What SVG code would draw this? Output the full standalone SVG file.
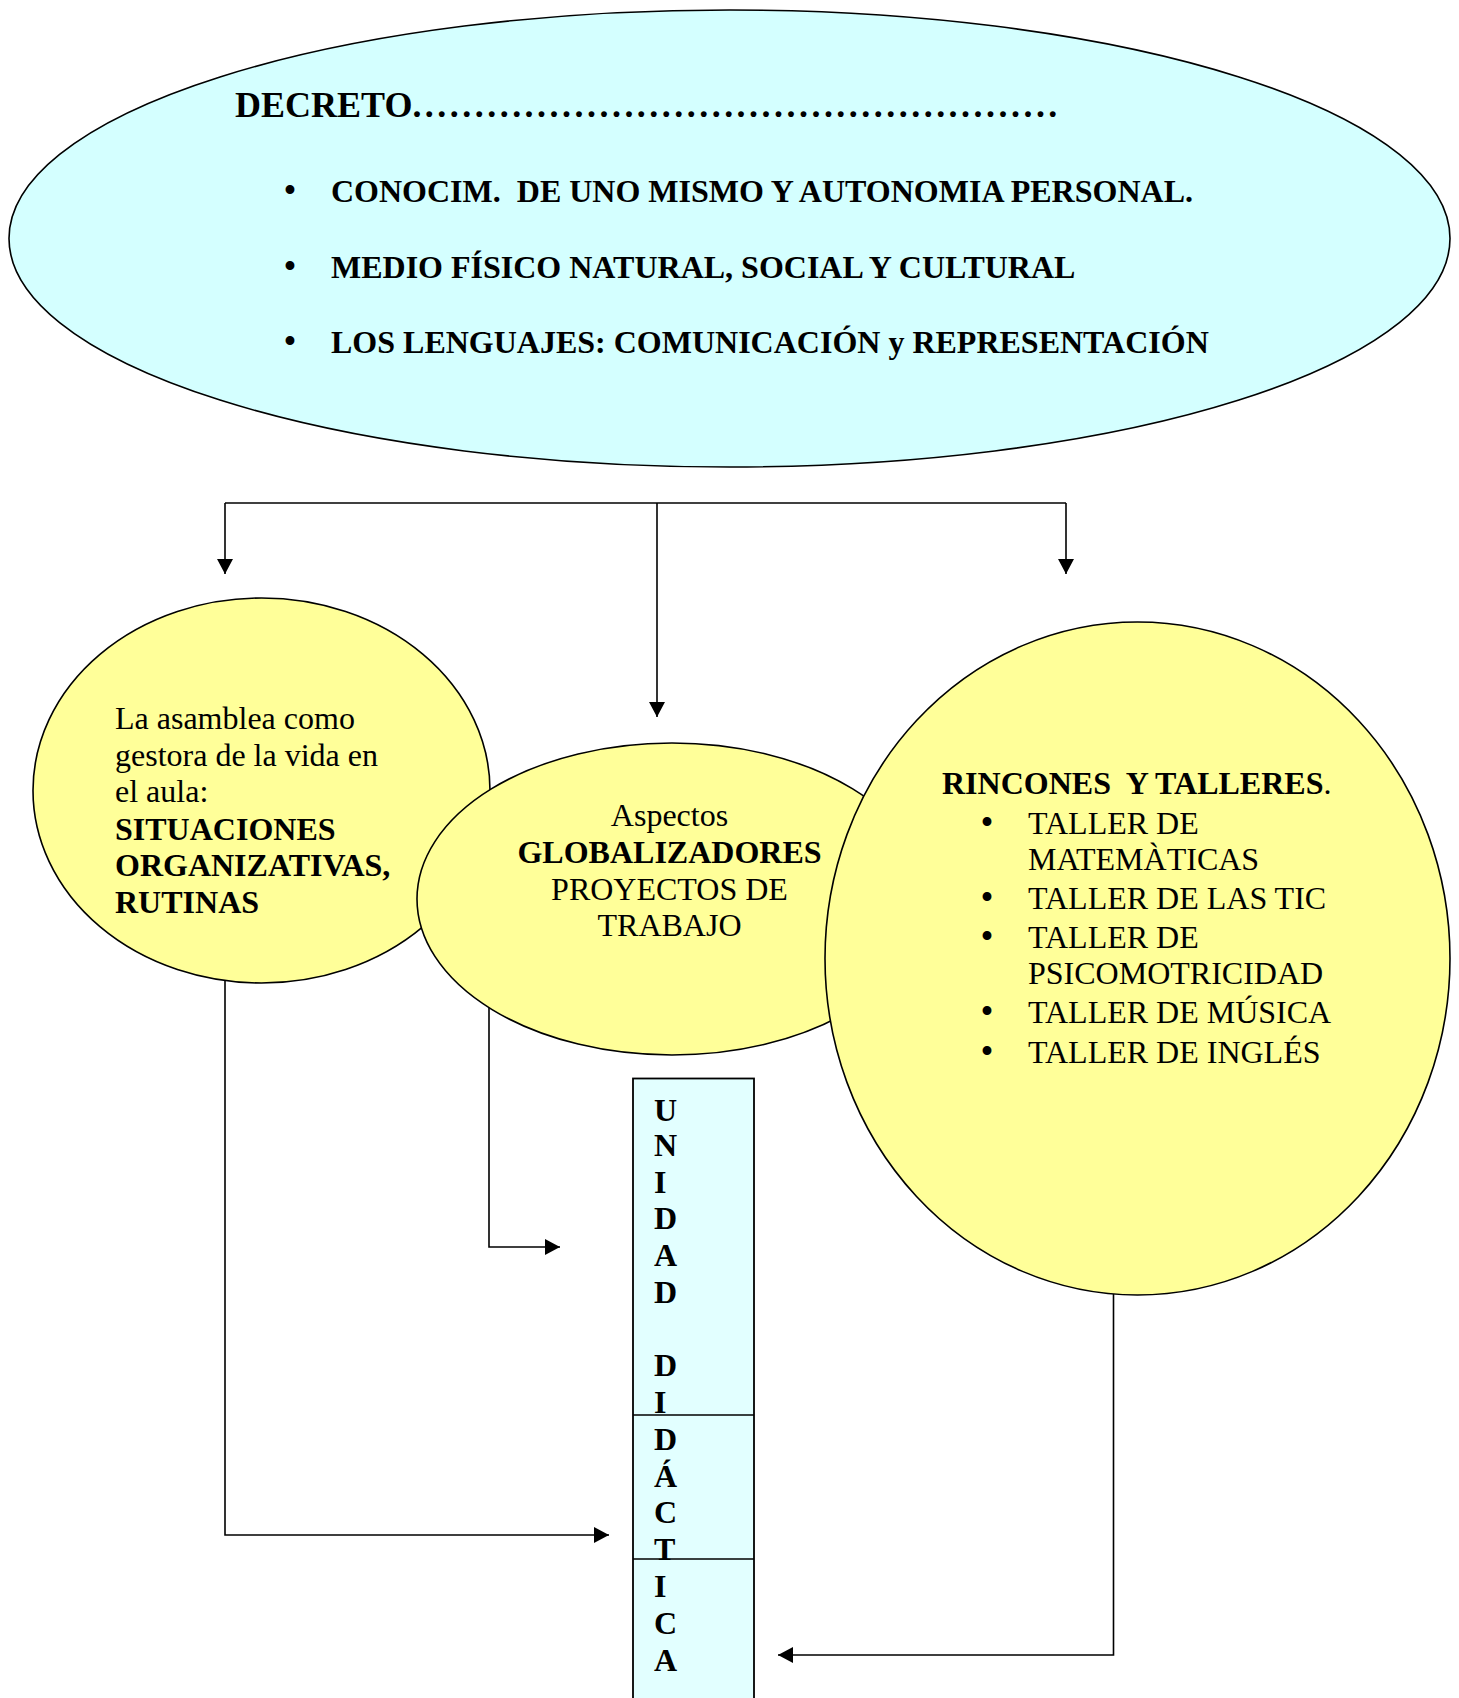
<svg xmlns="http://www.w3.org/2000/svg" width="1459" height="1698" viewBox="0 0 1459 1698">
<style>
  .bg { fill: #ffffff; }
  .cyan { fill: #D4FFFF; stroke: #000; stroke-width: 1.6; }
  .yellow { fill: #FFFF99; stroke: #000; stroke-width: 1.6; }
  .box { fill: #E2FFFF; stroke: #000; stroke-width: 1.8; }
  .conn { fill: none; stroke: #000; stroke-width: 1.6; }
  .t { font-family: "Liberation Serif", "Times New Roman", serif; font-size: 32px; fill: #000; white-space: pre; }
  .b { font-weight: bold; }
  .big { font-size: 36px; }
  .mid { text-anchor: middle; }
  .bul { font-family: "Liberation Serif", "Times New Roman", serif; font-size: 37px; text-anchor: middle; fill: #000; }
</style>
<defs>
  <marker id="arr" viewBox="0 0 15 16" refX="15" refY="8" markerWidth="15" markerHeight="16" markerUnits="userSpaceOnUse" orient="auto">
    <path d="M0,0 L15,8 L0,16 Z" fill="#000"/>
  </marker>
</defs>
<rect class="bg" x="0" y="0" width="1459" height="1698"/>

<g id="connectors">
  <path class="conn" d="M225,503 H1066"/>
  <path class="conn" d="M225,503 V574" marker-end="url(#arr)"/>
  <path class="conn" d="M657,503 V717" marker-end="url(#arr)"/>
  <path class="conn" d="M1066,503 V574" marker-end="url(#arr)"/>
  <path class="conn" d="M225,975 V1535 H609" marker-end="url(#arr)"/>
  <path class="conn" d="M489,995 V1247 H560" marker-end="url(#arr)"/>
  <path class="conn" d="M1113.5,1290 V1655 H778" marker-end="url(#arr)"/>
</g>

<g id="decreto">
  <ellipse class="cyan" cx="729.5" cy="238.5" rx="720.5" ry="228.5"/>
  <text class="t b big" x="235" y="117">DECRETO<tspan letter-spacing="3.47">....................................................</tspan></text>
  <text class="bul" x="290" y="203">•</text>
  <text class="t b" x="331" y="202" xml:space="preserve">CONOCIM.&#160; DE UNO MISMO Y AUTONOMIA PERSONAL.</text>
  <text class="bul" x="290" y="278.5">•</text>
  <text class="t b" x="331" y="277.5">MEDIO FÍSICO NATURAL, SOCIAL Y CULTURAL</text>
  <text class="bul" x="290" y="353.5">•</text>
  <text class="t b" x="331" y="352.5">LOS LENGUAJES: COMUNICACIÓN y REPRESENTACIÓN</text>
</g>

<g id="asamblea">
  <ellipse class="yellow" cx="261.5" cy="790.5" rx="228.5" ry="192.5"/>
  <text class="t" x="115" y="729">La asamblea como</text>
  <text class="t" x="115" y="765.5">gestora de la vida en</text>
  <text class="t" x="115" y="802">el aula:</text>
  <text class="t b" x="115" y="839.5">SITUACIONES</text>
  <text class="t b" x="115" y="876">ORGANIZATIVAS,</text>
  <text class="t b" x="115" y="912.5">RUTINAS</text>
</g>

<g id="globalizadores">
  <ellipse class="yellow" cx="672" cy="899" rx="255" ry="156"/>
  <text class="t mid" x="669.5" y="826">Aspectos</text>
  <text class="t b mid" x="669.5" y="863">GLOBALIZADORES</text>
  <text class="t mid" x="669.5" y="899.5">PROYECTOS DE</text>
  <text class="t mid" x="669.5" y="936">TRABAJO</text>
</g>

<g id="rincones">
  <ellipse class="yellow" cx="1137.5" cy="958.5" rx="312.5" ry="336.5"/>
  <text class="t" x="942" y="794" xml:space="preserve"><tspan font-weight="bold">RINCONES&#160; Y TALLERES</tspan>.</text>
  <text class="bul" x="987" y="835">•</text>
  <text class="t" x="1028" y="834">TALLER DE</text>
  <text class="t" x="1028" y="870">MATEMÀTICAS</text>
  <text class="bul" x="987" y="909.5">•</text>
  <text class="t" x="1028" y="908.5">TALLER DE LAS TIC</text>
  <text class="bul" x="987" y="949">•</text>
  <text class="t" x="1028" y="948">TALLER DE</text>
  <text class="t" x="1028" y="984">PSICOMOTRICIDAD</text>
  <text class="bul" x="987" y="1024">•</text>
  <text class="t" x="1028" y="1023">TALLER DE MÚSICA</text>
  <text class="bul" x="987" y="1064">•</text>
  <text class="t" x="1028" y="1063">TALLER DE INGLÉS</text>
</g>

<g id="unidad">
  <rect class="box" x="633" y="1078.5" width="121" height="640"/>
  <line class="conn" x1="633" y1="1415" x2="754" y2="1415" stroke-width="1.8"/>
  <line class="conn" x1="633" y1="1559" x2="754" y2="1559" stroke-width="1.8"/>
  <text class="t b" x="654" y="1120.5">U</text>
  <text class="t b" x="654" y="1156">N</text>
  <text class="t b" x="654" y="1192.5">I</text>
  <text class="t b" x="654" y="1229">D</text>
  <text class="t b" x="654" y="1265.5">A</text>
  <text class="t b" x="654" y="1302.5">D</text>
  <text class="t b" x="654" y="1376">D</text>
  <text class="t b" x="654" y="1412.5">I</text>
  <text class="t b" x="654" y="1450">D</text>
  <text class="t b" x="654" y="1487">Á</text>
  <text class="t b" x="654" y="1523">C</text>
  <text class="t b" x="654" y="1560">T</text>
  <text class="t b" x="654" y="1597">I</text>
  <text class="t b" x="654" y="1634">C</text>
  <text class="t b" x="654" y="1670.5">A</text>
</g>
</svg>
